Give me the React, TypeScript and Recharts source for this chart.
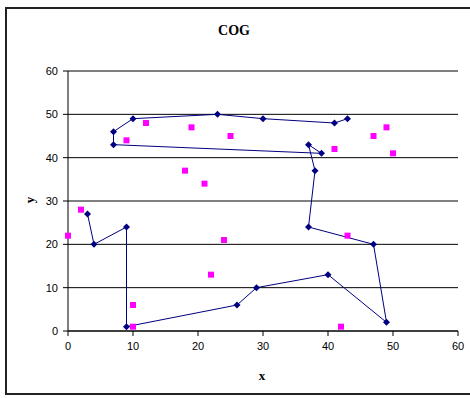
import { CartesianGrid, Scatter, ScatterChart, XAxis, YAxis } from "recharts"

// route (navy, connected in order)
const routeX = [3, 4, 9, 9, 26, 29, 40, 49, 47, 37, 38, 37, 39, 7, 7, 10, 23, 30, 41, 43]
const routeY = [27, 20, 24, 1, 6, 10, 13, 2, 20, 24, 37, 43, 41, 43, 46, 49, 50, 49, 48, 49]

// customer points (magenta)
const pointX = [0, 2, 9, 10, 10, 12, 18, 19, 21, 22, 24, 25, 41, 42, 43, 47, 49, 50]
const pointY = [22, 28, 44, 6, 1, 48, 37, 47, 34, 13, 21, 45, 42, 1, 22, 45, 47, 41]

const axisTicks = [0, 10, 20, 30, 40, 50, 60]

const routeData = routeX.map((x, i) => ({ x, y: routeY[i] }))
const pointData = pointX.map((x, i) => ({ x, y: pointY[i] }))

const tickStyle = { fontSize: 11, fill: "#000", fontFamily: "Liberation Sans, Arial, sans-serif" }
const serif = "Liberation Serif, Times New Roman, serif"

const Diamond = (props: any) => {
  const { cx, cy } = props
  return (
    <polygon
      points={`${cx},${cy - 3.5} ${cx + 3.5},${cy} ${cx},${cy + 3.5} ${cx - 3.5},${cy}`}
      fill="#000080"
    />
  )
}

const Square = (props: any) => {
  const { cx, cy } = props
  return <rect x={cx - 3} y={cy - 3} width={6} height={6} fill="#FF00FF" />
}

export default function App() {
  return (
    <div style={{ position: "absolute", left: 0, top: 0, width: 470, height: 398, background: "#fff", overflow: "hidden" }}>
      <div
        style={{
          position: "absolute",
          left: 5,
          top: 7,
          width: 480,
          height: 388,
          border: "2px solid #222",
          boxSizing: "border-box",
        }}
      />
      <div style={{ position: "absolute", left: 0, top: 0 }}>
        <ScatterChart width={470} height={398} margin={{ top: 71, right: 12, left: 0, bottom: 0 }}>
          <CartesianGrid vertical={false} stroke="#000" strokeWidth={1} />
          <XAxis
            type="number"
            dataKey="x"
            domain={[0, 60]}
            ticks={axisTicks}
            height={67}
            tickSize={5}
            tickMargin={6}
            stroke="#000"
            tick={tickStyle}
          />
          <YAxis
            type="number"
            dataKey="y"
            domain={[0, 60]}
            ticks={axisTicks}
            width={68}
            tickSize={5}
            tickMargin={5}
            stroke="#000"
            tick={tickStyle}
          />
          <Scatter
            data={routeData}
            line={{ stroke: "#000080", strokeWidth: 1 }}
            lineType="joint"
            shape={Diamond}
            fill="#000080"
            isAnimationActive={false}
          />
          <Scatter data={pointData} shape={Square} fill="#FF00FF" isAnimationActive={false} />
          <text x={234} y={35} textAnchor="middle" fontFamily={serif} fontWeight="bold" fontSize={14} fill="#000">
            COG
          </text>
          <text x={262} y={380} textAnchor="middle" fontFamily={serif} fontWeight="bold" fontSize={13} fill="#000">
            x
          </text>
          <text
            x={34}
            y={200}
            textAnchor="middle"
            fontFamily={serif}
            fontWeight="bold"
            fontSize={13}
            fill="#000"
            transform="rotate(-90 34 200)"
          >
            y
          </text>
        </ScatterChart>
      </div>
    </div>
  )
}
